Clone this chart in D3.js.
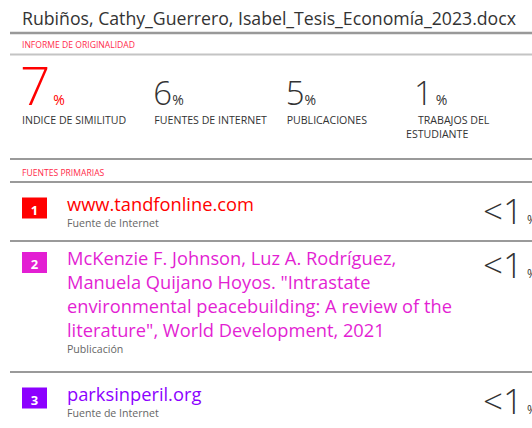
<!DOCTYPE html>
<html>
<head>
<meta charset="utf-8">
<script src="https://cdn.jsdelivr.net/npm/d3@7"></script>
<style>
  body { margin: 0; background: #fff; }
  svg { display: block; font-family: "Open Sans", sans-serif; }
</style>
</head>
<body>
<svg id="report"></svg>
<script>
const docTitle = "Rubiños, Cathy_Guerrero, Isabel_Tesis_Economía_2023.docx";
const reportHeading = "INFORME DE ORIGINALIDAD";
const sourcesHeading = "FUENTES PRIMARIAS";

const summaryValues = [7, 6, 5, 1];
const summaryLabels = [
  ["INDICE DE SIMILITUD"],
  ["FUENTES DE INTERNET"],
  ["PUBLICACIONES"],
  ["TRABAJOS DEL", "ESTUDIANTE"]
];

const sourceRanks = [1, 2, 3];
const sourceTitles = [
  ["www.tandfonline.com"],
  ["McKenzie F. Johnson, Luz A. Rodríguez,",
   "Manuela Quijano Hoyos. \"Intrastate",
   "environmental peacebuilding: A review of the",
   "literature\", World Development, 2021"],
  ["parksinperil.org"]
];
const sourceTypes = ["Fuente de Internet", "Publicación", "Fuente de Internet"];
const sourceShares = ["<1", "<1", "<1"];

const size = { width: 532, height: 428 };
const svg = d3.select("#report").attr("width", size.width).attr("height", size.height);

const rankColor = d3.scaleOrdinal().domain(sourceRanks).range(["#ff0000", "#e31fd3", "#8c00ff"]);

const rule = (y, color, w) => svg.append("line")
  .attr("x1", 10).attr("x2", size.width).attr("y1", y).attr("y2", y)
  .attr("stroke", color).attr("stroke-width", w);

// header
svg.append("text").attr("x", 22).attr("y", 25)
  .attr("font-size", 17.7).attr("fill", "#333").text(docTitle);
rule(33, "#999", 2.5);
svg.append("text").attr("x", 22).attr("y", 47.5)
  .attr("font-size", 8.6).attr("fill", "#ff2a4a").text(reportHeading);
rule(54.5, "#c4c4c4", 2);

// summary numbers
const colX = d3.scalePoint().domain(d3.range(summaryValues.length)).range([22, 419]);

const summary = svg.selectAll("g.summary").data(summaryValues).enter().append("g")
  .attr("class", "summary")
  .attr("transform", (_, i) => `translate(${colX(i)},0)`);

summary.append("text")
  .attr("y", 105)
  .attr("x", (_, i) => i === 3 ? -5 : (i === 0 ? -2 : -1))
  .attr("fill", (_, i) => i === 0 ? "#ff0000" : "#333")
  .attr("font-weight", 300)
  .each(function(d, i) {
    const t = d3.select(this);
    t.append("tspan").attr("font-size", i === 0 ? 53 : 33).text(d);
    t.append("tspan").attr("font-size", 14).attr("dx", i === 0 ? 3 : (i === 3 ? 3 : 0)).attr("font-weight", 400).text("%");
  });

summary.each(function(_, i) {
  const lines = summaryLabels[i];
  d3.select(this).selectAll("text.lab").data(lines).enter().append("text")
    .attr("class", "lab")
    .attr("x", (_, j) => lines.length > 1 ? (j === 0 ? -1 : -13) : 0)
    .attr("y", (_, j) => 124 + j * 14)
    .attr("font-size", 10.6).attr("fill", "#333")
    .text(d => d);
});

rule(159, "#9a9a9a", 2);
svg.append("text").attr("x", 22).attr("y", 175.5)
  .attr("font-size", 8.6).attr("fill", "#ff2a4a").text(sourcesHeading);
rule(182, "#9a9a9a", 2);

// source rows
const lineH = 24;
const rowTops = sourceTitles.reduce((acc, lines) => {
  acc.push(acc[acc.length - 1] + 35 + lineH * lines.length);
  return acc;
}, [182]);

const rows = svg.selectAll("g.row").data(sourceRanks).enter().append("g")
  .attr("class", "row")
  .attr("transform", (_, i) => `translate(0,${rowTops[i] + (sourceTitles[i].length > 1 ? 24 : 28.5)})`);

rows.append("rect")
  .attr("x", 22).attr("y", -13).attr("width", 25).attr("height", 21)
  .attr("fill", d => rankColor(d));
rows.append("text")
  .attr("x", 34.5).attr("y", 4).attr("text-anchor", "middle")
  .attr("font-size", 13).attr("font-weight", 700).attr("fill", "#fff")
  .text(d => d);

rows.each(function(d, i) {
  const g = d3.select(this);
  const lines = sourceTitles[i];
  g.selectAll("text.title").data(lines).enter().append("text")
    .attr("class", "title")
    .attr("x", 67).attr("y", (_, j) => j * lineH)
    .attr("font-size", 18.3).attr("fill", rankColor(d))
    .text(t => t);
  g.append("text")
    .attr("x", 67).attr("y", (lines.length - 1) * lineH + 16)
    .attr("font-size", 10.6).attr("fill", "#666")
    .text(sourceTypes[i]);
  const pct = g.append("text")
    .attr("x", 483).attr("y", 13).attr("fill", "#333");
  pct.append("tspan").attr("font-size", 35).attr("font-weight", 300).text(sourceShares[i]);
  pct.append("tspan").attr("font-size", 12).attr("dx", 4).text("%");
});

rowTops.slice(1).forEach(y => rule(y, "#9a9a9a", 2));
</script>
</body>
</html>
